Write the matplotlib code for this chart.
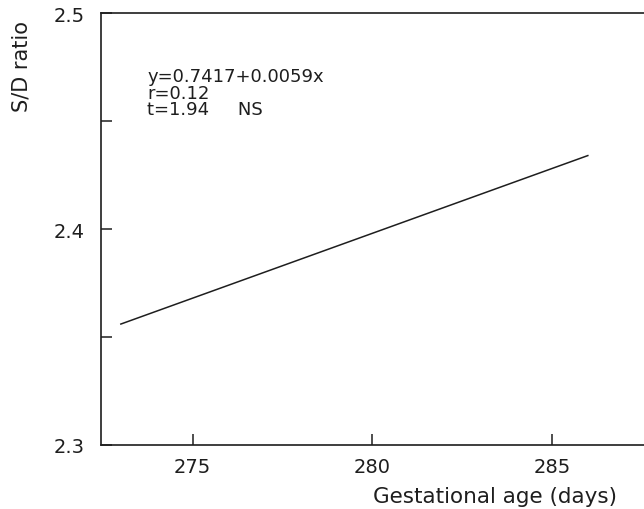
import matplotlib
matplotlib.use("Agg")
import matplotlib.pyplot as plt
from matplotlib.ticker import MultipleLocator

# regression line endpoints
gest_age = [273, 286]
sd_ratio = [2.356, 2.434]

x_ticks = [275, 280, 285]
y_ticks = [2.3, 2.4, 2.5]

stats_lines = ["y=0.7417+0.0059x", "r=0.12", "t=1.94     NS"]

plt.rcParams['font.family'] = ['DejaVu Sans']

ink = '#1e1e1e'
fig = plt.figure(figsize=(6.44, 5.1), dpi=100)
# axes run off the right edge, as in the scan
ax = fig.add_axes([0.157, 0.1255, 0.951, 0.847])

ax.plot(gest_age, sd_ratio, color=ink, lw=1.1)

ax.set_xlim(272.45, 289.5)
ax.set_ylim(2.3, 2.5)
ax.set_xticks(x_ticks)
ax.set_xticklabels([str(v) for v in x_ticks])
ax.set_yticks(y_ticks)
ax.set_yticklabels([f"{v:.1f}" for v in y_ticks])
ax.yaxis.set_minor_locator(MultipleLocator(0.05))

ax.tick_params(axis='both', which='major', direction='in', length=8, width=1.1,
               labelsize=14, colors=ink, pad=12)
ax.tick_params(axis='y', which='minor', direction='in', length=8, width=1.1, colors=ink)
ax.tick_params(axis='x', pad=9)

for s in ['left', 'bottom', 'top']:
    ax.spines[s].set_linewidth(1.2)
    ax.spines[s].set_color(ink)
ax.spines['right'].set_visible(False)

ax.text(0.075, 0.875, "\n".join(stats_lines), transform=ax.transAxes,
        fontsize=13, va='top', ha='left', linespacing=0.9, color=ink)

fig.text(0.034, 0.869, "S/D ratio", rotation=90, fontsize=15,
         ha='center', va='center', color=ink)
fig.text(0.769, 0.026, "Gestational age (days)", fontsize=15.5,
         ha='center', va='center', color=ink)

fig.savefig("out.png", dpi=100)
